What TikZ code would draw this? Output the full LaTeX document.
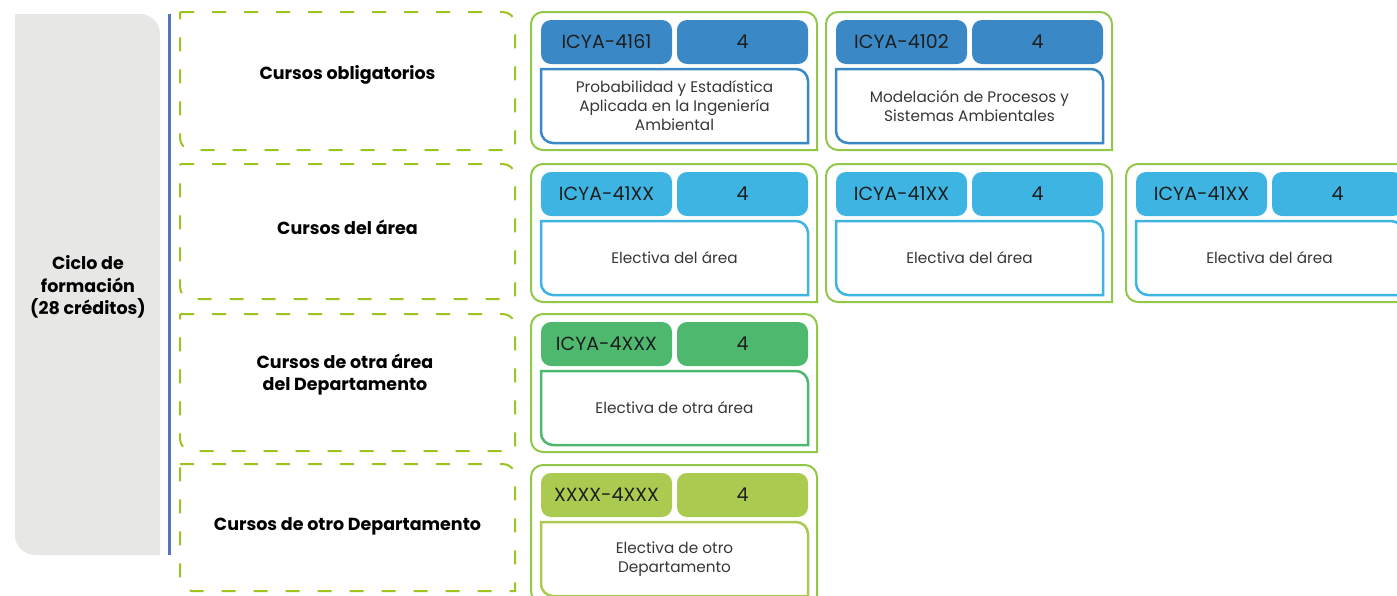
\documentclass[tikz,border=0pt]{standalone}
\usepackage{fontspec}
\setmainfont{Poppins}
\definecolor{dashgreen}{RGB}{155,196,32}
\definecolor{cardgreen}{RGB}{146,200,74}
\definecolor{panelgrey}{RGB}{231,232,230}
\definecolor{vline}{RGB}{82,118,192}
\definecolor{cblue}{RGB}{58,137,198}
\definecolor{ccyan}{RGB}{62,180,227}
\definecolor{cgreen}{RGB}{78,184,110}
\definecolor{clime}{RGB}{170,203,80}
\definecolor{txtdark}{RGB}{30,30,30}
\definecolor{txtgrey}{RGB}{55,55,55}
% generic box: [style]{x1}{y1}{x2}{y2}{rTL}{rTR}{rBR}{rBL}  (y grows downward)
\newcommand{\shp}[9][]{%
  \path[#1] ({#2+#6},{#3}) -- ({#4-#7},{#3})
    .. controls ({#4-0.45*#7},{#3}) and ({#4},{#3+0.45*#7}) .. ({#4},{#3+#7})
    -- ({#4},{#5-#8})
    .. controls ({#4},{#5-0.45*#8}) and ({#4-0.45*#8},{#5}) .. ({#4-#8},{#5})
    -- ({#2+#9},{#5})
    .. controls ({#2+0.45*#9},{#5}) and ({#2},{#5-0.45*#9}) .. ({#2},{#5-#9})
    -- ({#2},{#3+#6})
    .. controls ({#2},{#3+0.45*#6}) and ({#2+0.45*#6},{#3}) .. ({#2+#6},{#3})
    -- cycle;}
% course card: {name}{x}{y}{colour}{code}{description}
\newcommand{\coursecard}[6]{%
  \shp[cardbox]{#2}{#3}{#2+286}{#3+138}{12}{12}{0}{12}
  \node[pill, fill=#4] (#1code) at ({#2+10+65.5},{#3+30}) {#5};
  \node[pill, fill=#4] (#1cr) at ({#2+146+65.5},{#3+30}) {4};
  \shp[descbox, draw=#4]{#2+10}{#3+57}{#2+277}{#3+131}{0}{12}{0}{12}
  \node[desctxt] (#1desc) at ({#2+143.5},{#3+94}) {#6};}
\begin{document}
\begin{tikzpicture}[x=1pt,y=-1pt,
  lbl/.style={font=\fontsize{17.5}{22.5}\selectfont\bfseries, align=center, text=black},
  pill/.style={rounded corners=10pt, minimum width=131pt, minimum height=44pt, inner sep=0pt,
               font=\fontsize{19}{22}\selectfont, text=txtdark},
  desctxt/.style={font=\fontsize{15.3}{19}\selectfont, align=center, text=txtgrey},
  dashbox/.style={draw=dashgreen, line width=2pt, dash pattern=on 14pt off 18pt},
  cardbox/.style={draw=cardgreen, line width=2pt, fill=white},
  descbox/.style={line width=2.5pt, fill=white},
  panel/.style={fill=panelgrey},
  blueline/.style={draw=vline, line width=3pt}]
\useasboundingbox (0,0) rectangle (1397,595);
\fill[white] (0,0) rectangle (1397,595);
\clip (0,0) rectangle (1397,595);

% left panel
\shp[panel]{15}{14}{160}{555}{0}{20}{0}{20}
\node[lbl] (ciclo) at (88,287) {Ciclo de\\formación\\(28 créditos)};
\draw[blueline] (169,14) -- (169,555);

% category boxes
\shp[dashbox]{180}{12}{515}{150}{0}{12}{0}{12}
\node[lbl] (oblig) at (347.5,75) {Cursos obligatorios};
\shp[dashbox]{180}{164}{515}{299}{0}{12}{0}{12}
\node[lbl] (area) at (347.5,227) {Cursos del área};
\shp[dashbox]{180}{314}{515}{451}{0}{12}{0}{12}
\node[lbl] (otraarea) at (345,374.5) {Cursos de otra área\\ del Departamento};
\shp[dashbox]{180}{464}{515}{591}{0}{12}{0}{12}
\node[lbl] (otrodep) at (347.5,526) {Cursos de otro Departamento};

% course cards
\coursecard{a}{531}{12}{cblue}{ICYA-4161}{Probabilidad y Estadística\\Aplicada en la Ingeniería\\Ambiental}
\coursecard{b}{826}{12}{cblue}{ICYA-4102}{Modelación de Procesos y\\Sistemas Ambientales}
\coursecard{c}{531}{164}{ccyan}{ICYA-41XX}{Electiva del área}
\coursecard{d}{826}{164}{ccyan}{ICYA-41XX}{Electiva del área}
\coursecard{e}{1126}{164}{ccyan}{ICYA-41XX}{Electiva del área}
\coursecard{f}{531}{314}{cgreen}{ICYA-4XXX}{Electiva de otra área}
\coursecard{g}{531}{465}{clime}{XXXX-4XXX}{Electiva de otro\\Departamento}
\end{tikzpicture}
\end{document}
